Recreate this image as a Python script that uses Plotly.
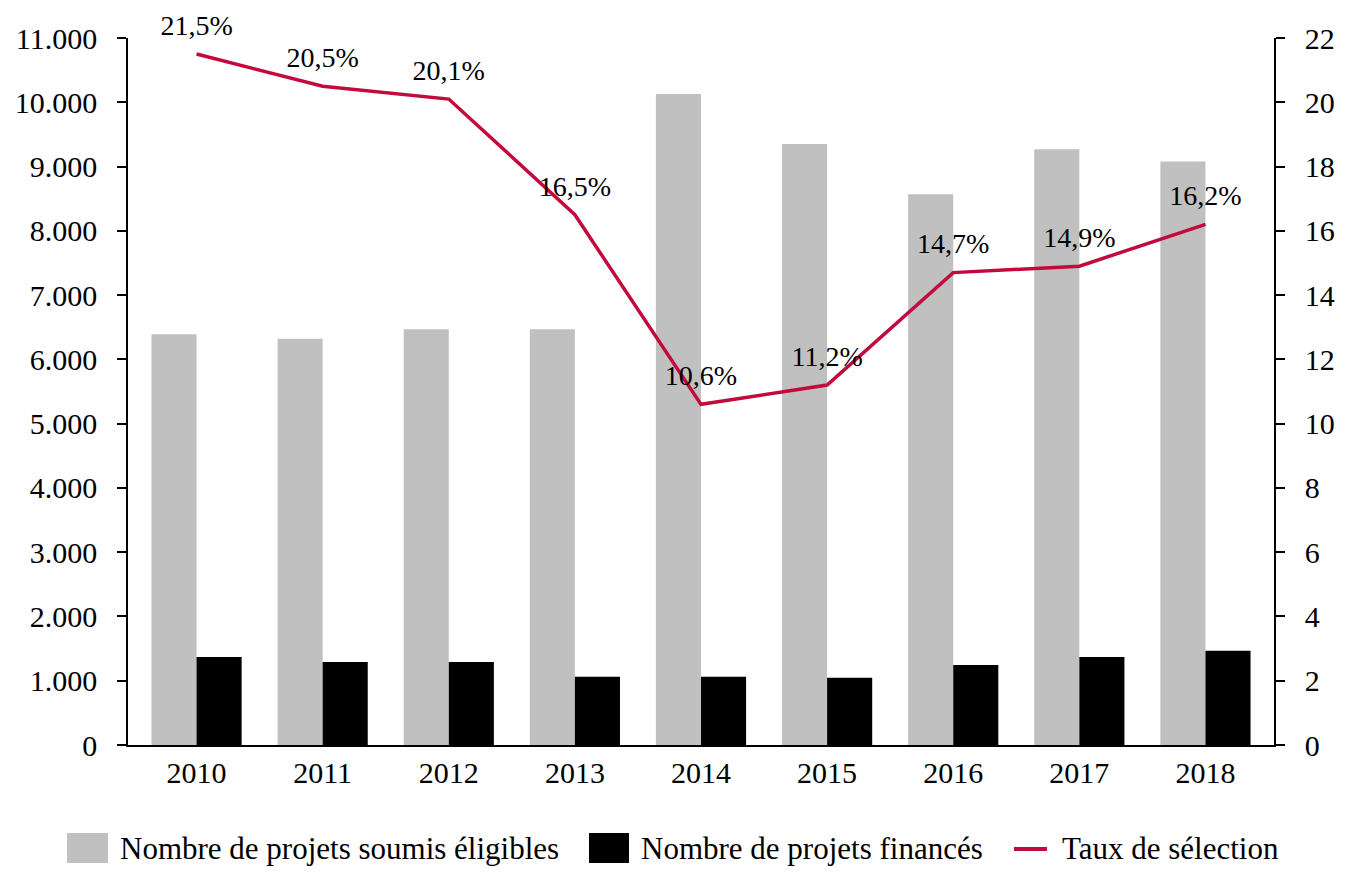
import plotly.graph_objects as go

years = ["2010", "2011", "2012", "2013", "2014", "2015", "2016", "2017", "2018"]
soumis = [6390, 6320, 6470, 6470, 10130, 9350, 8570, 9270, 9080]
finances = [1370, 1290, 1290, 1060, 1060, 1045, 1245, 1370, 1465]
taux = [21.5, 20.5, 20.1, 16.5, 10.6, 11.2, 14.7, 14.9, 16.2]

names = ["Nombre de projets soumis éligibles", "Nombre de projets financés", "Taux de sélection"]
colors = ["#C0C0C0", "#000000", "#C20A3D"]

FONT = "Liberation Serif"
OFF = 8  # default page body margin
W, H = 1348 - OFF, 885 - OFF
L, R, T, B = 128 - OFF, 74, 38 - OFF, 140

fig = go.Figure()
fig.add_trace(go.Bar(x=years, y=soumis, name=names[0], showlegend=False,
                     marker=dict(color=colors[0], line=dict(width=0))))
fig.add_trace(go.Bar(x=years, y=finances, name=names[1], showlegend=False,
                     marker=dict(color=colors[1], line=dict(width=0))))
fig.add_trace(go.Scatter(x=years, y=taux, name=names[2], yaxis="y2", showlegend=False,
                         mode="lines+markers+text", line=dict(color=colors[2], width=3.5),
                         marker=dict(size=18, color="rgba(0,0,0,0)"),
                         texttemplate="%{y:.1f}%", textposition="top center",
                         cliponaxis=False,
                         textfont=dict(family=FONT, size=28, color="black")))

# manual legend (page pixel positions converted to paper coordinates)
pw, ph = W - L - R, H - T - B
def px(x):
    return (x - OFF - L) / pw
def py(y):
    return (H - B - (y - OFF)) / ph

shapes = []
annotations = []
leg_y = 848
items = [("box", 67, 108, 118), ("box", 589, 629, 639), ("line", 1014, 1047, 1060)]
for (kind, x0, x1, tx), name, col in zip(items, names, colors):
    if kind == "box":
        shapes.append(dict(type="rect", xref="paper", yref="paper",
                           x0=px(x0), x1=px(x1), y0=py(leg_y + 15), y1=py(leg_y - 15),
                           fillcolor=col, line=dict(width=0), layer="above"))
    else:
        shapes.append(dict(type="line", xref="paper", yref="paper",
                           x0=px(x0), x1=px(x1), y0=py(leg_y + 1), y1=py(leg_y + 1),
                           line=dict(color=col, width=4), layer="above"))
    annotations.append(dict(text=name, xref="paper", yref="paper", x=px(tx), y=py(leg_y),
                            xanchor="left", yanchor="middle", showarrow=False,
                            font=dict(family=FONT, size=31, color="black")))

fig.update_layout(
    width=W, height=H,
    paper_bgcolor="white", plot_bgcolor="white",
    separators=",.",
    font=dict(family=FONT, size=30, color="black"),
    margin=dict(l=L, r=R, t=T, b=B, autoexpand=False),
    barmode="group", bargap=0.285, bargroupgap=0,
    showlegend=False,
    shapes=shapes, annotations=annotations,
    xaxis=dict(showline=True, linecolor="black", linewidth=1.5, ticks="",
               showgrid=False, tickfont=dict(size=30), ticklabelstandoff=0,
               automargin=False),
    yaxis=dict(range=[0, 11000], dtick=1000, tickformat=",d", showline=True,
               linecolor="black", linewidth=1.5, ticks="outside", ticklen=9,
               tickcolor="black", tickwidth=1.5, showgrid=False, zeroline=False,
               tickfont=dict(size=30), ticklabelstandoff=14, automargin=False),
    yaxis2=dict(range=[0, 22], dtick=2, overlaying="y", side="right", showline=True,
                linecolor="black", linewidth=1.5, ticks="outside", ticklen=9,
                tickcolor="black", tickwidth=1.5, showgrid=False, zeroline=False,
                tickfont=dict(size=30), ticklabelstandoff=14, automargin=False),
)
fig.write_html("out.html")
